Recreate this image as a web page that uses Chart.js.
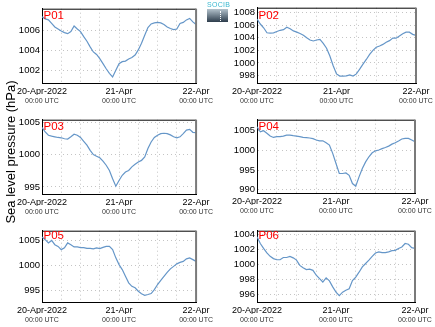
<!DOCTYPE html>
<html>
<head>
<meta charset="utf-8">
<script src="https://cdn.jsdelivr.net/npm/chart.js@4.4.0/dist/chart.umd.min.js"></script>
<style>
  html, body { margin: 0; padding: 0; background: #fff; }
  #fig { position: relative; width: 435px; height: 327px; overflow: hidden; font-family: "Liberation Sans", Arial, sans-serif; }
  #fig canvas { position: absolute; }
  #ylabel { position: absolute; left: -64px; top: 144px; width: 150px; height: 16px; line-height: 16px; text-align: center; transform: rotate(-90deg); font-size: 13px; font-weight: normal; white-space: nowrap; color: #000; }
  #logo { position: absolute; left: 207px; top: 1px; width: 22px; }
  #logo .txt { font-size: 7px; line-height: 7px; color: #3bb8d0; letter-spacing: 0.3px; }
  #logo .box { position: relative; width: 21px; height: 13px; margin-top: 1px; background: linear-gradient(#b3c2cc, #2d3d4c); }
  #logo .box span { position: absolute; left: 13px; top: 2px; height: 10px; border-left: 1px dotted #fff; }
</style>
</head>
<body>
<div id="fig">
  <canvas id="c1"></canvas>
  <canvas id="c2"></canvas>
  <canvas id="c3"></canvas>
  <canvas id="c4"></canvas>
  <canvas id="c5"></canvas>
  <canvas id="c6"></canvas>
  <div id="ylabel">Sea level pressure (hPa)</div>
  <div id="logo"><div class="txt">SOCIB</div><div class="box"><span></span></div></div>
</div>
<script>
// hours since 20-Apr-2022 00:00 UTC
const hours = Array.from({length: 49}, (_, i) => i);
const dateLabels = ['20-Apr-2022', '21-Apr', '22-Apr'];
const timeLabels = ['00:00 UTC', '00:00 UTC', '00:00 UTC'];
const stations = ['P01', 'P02', 'P03', 'P04', 'P05', 'P06'];

// sea level pressure (hPa), hourly
const p01 = [1007.3, 1007.1, 1007.0, 1006.65, 1006.3, 1006.1, 1005.9, 1005.75, 1005.65, 1005.85, 1006.4, 1006.1, 1005.85, 1005.35, 1004.9, 1004.35, 1003.85, 1003.6, 1003.2, 1002.7, 1002.2, 1001.75, 1001.4, 1002.05, 1002.7, 1002.9, 1002.95, 1003.15, 1003.3, 1003.55, 1004.05, 1004.7, 1005.5, 1006.25, 1006.6, 1006.7, 1006.75, 1006.7, 1006.55, 1006.3, 1006.15, 1006.05, 1006.1, 1006.65, 1006.75, 1007.0, 1007.15, 1006.8, 1006.55];
const p02 = [1007.0, 1006.2, 1005.6, 1004.8, 1004.75, 1004.8, 1005.0, 1005.2, 1005.3, 1005.7, 1005.45, 1005.1, 1004.9, 1004.7, 1004.4, 1004.0, 1003.65, 1003.5, 1003.65, 1003.75, 1003.1, 1002.35, 1001.1, 999.55, 998.25, 997.9, 997.9, 997.95, 998.1, 997.9, 998.25, 999.0, 999.8, 1000.55, 1001.35, 1002.0, 1002.5, 1002.7, 1002.95, 1003.3, 1003.55, 1003.95, 1003.95, 1004.3, 1004.65, 1004.9, 1004.9, 1004.55, 1004.4];
const p03 = [1004.2, 1003.5, 1003.0, 1002.85, 1002.75, 1002.65, 1002.6, 1002.45, 1002.4, 1002.75, 1003.15, 1003.0, 1002.65, 1002.05, 1001.45, 1000.65, 1000.0, 999.75, 999.5, 999.0, 998.35, 997.55, 996.25, 995.1, 996.0, 996.8, 997.3, 997.55, 998.1, 998.5, 998.85, 999.1, 999.65, 1000.95, 1001.95, 1002.65, 1003.0, 1003.25, 1003.3, 1003.25, 1003.05, 1002.75, 1002.6, 1002.75, 1003.25, 1003.8, 1003.9, 1003.45, 1003.4];
const p04 = [1006.0, 1004.75, 1005.0, 1004.35, 1003.65, 1003.3, 1003.5, 1003.5, 1003.65, 1003.9, 1003.9, 1003.75, 1003.65, 1003.5, 1003.3, 1003.25, 1003.15, 1003.0, 1002.65, 1002.45, 1002.45, 1001.95, 1001.35, 999.25, 996.7, 994.15, 994.15, 994.3, 993.7, 991.6, 990.9, 993.3, 995.4, 997.1, 998.4, 999.4, 999.9, 1000.1, 1000.45, 1000.75, 1001.1, 1001.6, 1001.95, 1002.4, 1002.9, 1003.05, 1003.05, 1002.65, 1002.2];
const p05 = [1005.75, 1005.2, 1004.55, 1005.05, 1004.2, 1003.85, 1003.2, 1003.55, 1004.55, 1004.2, 1003.75, 1003.75, 1003.6, 1003.6, 1003.45, 1003.45, 1003.35, 1003.55, 1003.4, 1003.65, 1003.85, 1003.85, 1003.2, 1001.55, 1000.2, 999.2, 997.85, 996.55, 995.85, 995.55, 994.85, 994.35, 994.05, 994.2, 994.4, 995.2, 996.2, 997.05, 997.85, 998.65, 999.35, 999.85, 1000.35, 1000.65, 1000.85, 1001.35, 1001.55, 1001.2, 1000.85];
const p06 = [1003.65, 1002.75, 1002.1, 1001.5, 1001.05, 1000.75, 1000.6, 1000.6, 1000.9, 1000.9, 1001.05, 1000.85, 1000.55, 999.85, 999.55, 999.3, 999.35, 999.2, 998.55, 998.1, 997.65, 998.2, 997.8, 997.0, 996.3, 995.85, 996.3, 996.55, 996.75, 997.85, 998.3, 998.95, 999.65, 1000.1, 1000.55, 1001.05, 1001.5, 1001.65, 1001.55, 1001.55, 1001.65, 1001.8, 1001.85, 1002.1, 1002.3, 1002.75, 1002.65, 1002.2, 1002.1];

// y tick labels per panel
const ticks01 = [1002, 1004, 1006];
const ticks02 = [998, 1000, 1002, 1004, 1006, 1008];
const ticks03 = [995, 1000, 1005];
const ticks04 = [990, 995, 1000, 1005];
const ticks05 = [995, 1000, 1005];
const ticks06 = [996, 998, 1000, 1002, 1004];

const series = [p01, p02, p03, p04, p05, p06];
const yticks = [ticks01, ticks02, ticks03, ticks04, ticks05, ticks06];
const yRanges = [[1000.8, 1008.1], [996.8, 1008.8], [993.9, 1005.4], [989.2, 1007.8], [992.7, 1007.0], [995.0, 1004.45]];

// plot area boxes in page pixels, and label baseline
const boxes = [
    {L: 42, T: 7, R: 200, B: 81, ly: 19.3},
    {L: 257, T: 3, R: 416, B: 81, ly: 19.3},
    {L: 42, T: 118, R: 200, B: 192, ly: 130},
    {L: 257, T: 118, R: 415, B: 191, ly: 130},
    {L: 42, T: 229, R: 200, B: 300, ly: 239},
    {L: 257, T: 229, R: 415, B: 300, ly: 239.3}
];

const FONT = "'Liberation Sans', Arial, sans-serif";
const GRID = '#c4c4c4';

const framePlugin = {
    id: 'frame',
    afterDraw(chart, args, opts) {
        const a = chart.chartArea;
        const ctx = chart.ctx;
        ctx.save();
        ctx.strokeStyle = '#000';
        ctx.lineWidth = 1;
        ctx.beginPath();
        ctx.moveTo(a.left, a.top + 0.5);
        ctx.lineTo(a.right, a.top + 0.5);
        ctx.stroke();
        ctx.strokeStyle = '#7a7a7a';
        ctx.lineWidth = 2;
        ctx.beginPath();
        ctx.moveTo(a.right, a.top);
        ctx.lineTo(a.right, a.bottom);
        ctx.stroke();
        // station name
        ctx.fillStyle = '#ff0000';
        ctx.font = '11.5px ' + FONT;
        ctx.textBaseline = 'alphabetic';
        ctx.fillText(opts.name, a.left + 1.5, opts.y);
        ctx.restore();
    }
};

function makePanel(i) {
    const b = boxes[i];
    const right = b.L > 215;
    const cLeft = right ? 215 : 0;
    const cWidth = right ? 220 : 215;
    const padTop = Math.min(6, b.T);
    const cTop = b.T - padTop;
    const cHeight = (b.B - b.T) + padTop + 26;
    const canvas = document.getElementById('c' + (i + 1));
    canvas.width = cWidth;
    canvas.height = cHeight;
    canvas.style.left = cLeft + 'px';
    canvas.style.top = cTop + 'px';

    new Chart(canvas.getContext('2d'), {
        type: 'line',
        data: {
            labels: hours,
            datasets: [{
                data: series[i],
                borderColor: '#6596c8',
                borderWidth: 1.2,
                pointRadius: 0,
                tension: 0,
                fill: false
            }]
        },
        options: {
            responsive: false,
            animation: false,
            layout: {
                padding: {top: padTop, left: 0, right: cWidth - (b.R - cLeft), bottom: 0}
            },
            plugins: {
                legend: {display: false},
                tooltip: {enabled: false},
                frame: {name: stations[i], y: b.ly - cTop}
            },
            scales: {
                x: {
                    type: 'linear',
                    min: 0,
                    max: 48,
                    afterFit: (s) => { s.height = 12; },
                    grid: {color: GRID, drawTicks: false},
                    border: {display: true, color: '#000', width: 1, dash: [1, 3]},
                    ticks: {
                        stepSize: 6,
                        autoSkip: false,
                        maxRotation: 0,
                        padding: 3,
                        color: '#000',
                        font: {family: FONT, size: 9},
                        callback: (v) => (v % 24 === 0 ? dateLabels[v / 24] : '')
                    }
                },
                x2: {
                    type: 'linear',
                    position: 'bottom',
                    min: 0,
                    max: 48,
                    afterFit: (s) => { s.height = 12; },
                    grid: {display: false, drawTicks: false},
                    border: {display: false},
                    ticks: {
                        stepSize: 6,
                        autoSkip: false,
                        maxRotation: 0,
                        padding: 2,
                        color: '#333',
                        font: {family: FONT, size: 7},
                        callback: (v) => (v % 24 === 0 ? timeLabels[v / 24] : '')
                    }
                },
                y: {
                    min: yRanges[i][0],
                    max: yRanges[i][1],
                    afterFit: (s) => { s.width = b.L - cLeft; },
                    afterBuildTicks: (s) => { s.ticks = yticks[i].map(v => ({value: v})); },
                    grid: {color: GRID, drawTicks: false},
                    border: {display: true, color: '#000', width: 1, dash: [1, 3]},
                    ticks: {
                        padding: 2,
                        color: '#000',
                        font: {family: FONT, size: 9.5},
                        callback: (v) => String(v)
                    }
                }
            }
        },
        plugins: [framePlugin]
    });
}

for (let i = 0; i < 6; i++) makePanel(i);
</script>
</body>
</html>
